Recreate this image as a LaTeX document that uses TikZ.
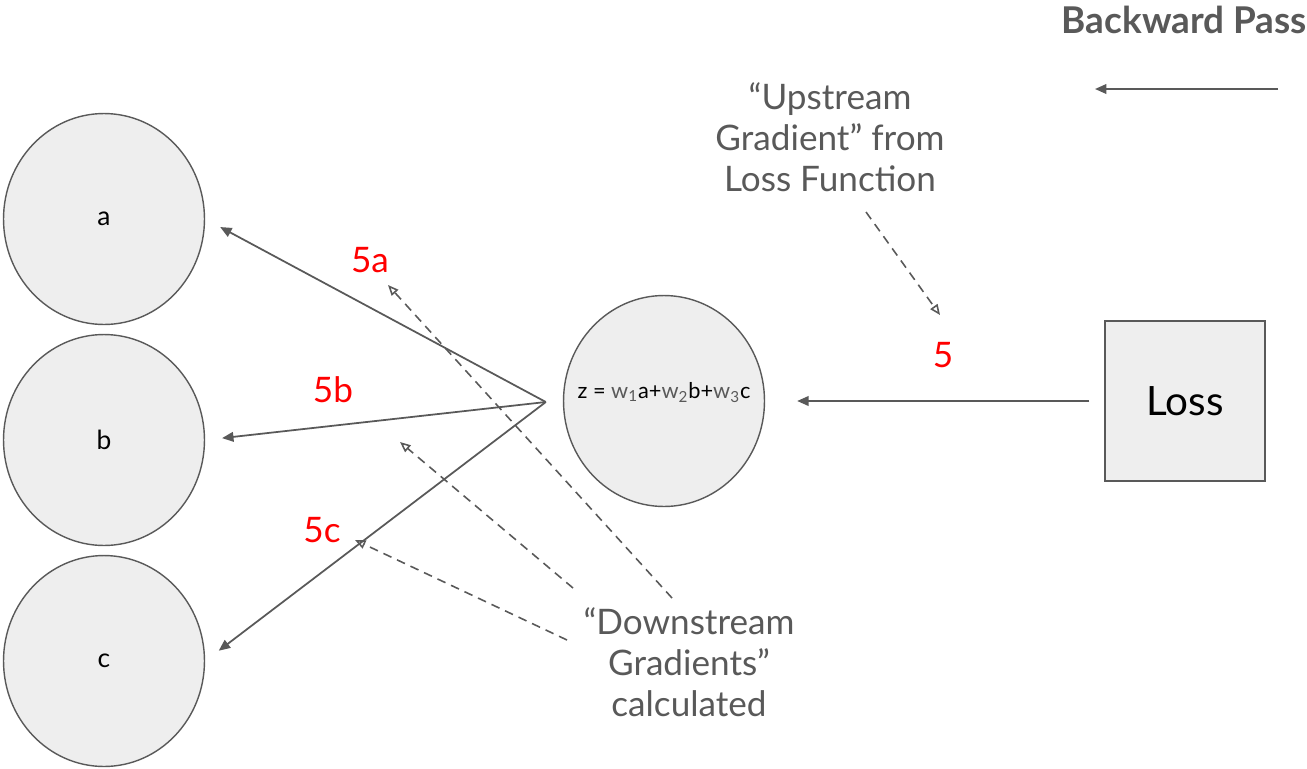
\documentclass[tikz,border=0pt]{standalone}
\usepackage{fontspec}
\setmainfont{Lato}
\usetikzlibrary{arrows.meta,positioning,calc,shapes.geometric}
\definecolor{lineGrey}{HTML}{595959}
\definecolor{fillGrey}{HTML}{EEEEEE}
\definecolor{gradRed}{HTML}{FF0000}
\newcommand{\wgt}[1]{\textcolor{lineGrey}{w\textsubscript{#1}}}

\begin{document}
\begin{tikzpicture}[x=0.02cm, y=-0.02cm,
    neuron/.style={ellipse, draw=lineGrey, fill=fillGrey, line width=0.8pt,
      minimum width=4.02cm, minimum height=4.22cm, inner sep=0pt,
      font=\fontsize{15}{17}\selectfont, text depth=0pt},
    flow/.style={-{Triangle[length=6.5pt,width=5.5pt]}, lineGrey, line width=1pt},
    hint/.style={-{Triangle[open,length=6pt,width=5pt]}, lineGrey, line width=0.9pt,
      dash pattern=on 5pt off 3.5pt},
    note/.style={lineGrey, align=center, font=\fontsize{20}{23.5}\selectfont},
    grad/.style={gradRed, font=\fontsize{20}{22}\selectfont}]
  \useasboundingbox (0,0) rectangle (1307,768);
  % input neurons
  \node[neuron] (a) at (104,219) {a};
  \node[neuron] (b) at (104,440) {b};
  \node[neuron] (c) at (104,661) {c};
  % weighted sum neuron
  \node[neuron, label={[font=\fontsize{12.4}{14}\selectfont, yshift=5pt]center:z = \wgt{1}a+\wgt{2}b+\wgt{3}c}]
    (z) at (664,401) {};
  % loss box
  \node[draw=lineGrey, fill=fillGrey, line width=0.8pt, minimum size=3.2cm,
    font=\fontsize{23}{26}\selectfont] (loss) at (1185,401) {Loss};
  % direction of the pass
  \node[lineGrey, anchor=east, inner sep=0pt, font=\bfseries\fontsize{21}{24}\selectfont] (pass) at (1307,20) {Backward Pass};
  \coordinate (passR) at (1278,89);
  \coordinate (passL) at (1095,89);
  \draw[flow] (passR) -- (passL);
  % upstream gradient
  \node[grad] (five) at (943,355) {5};
  \draw[flow, shorten <=0.3cm, shorten >=0.64cm] (loss.west) -- (z.east);
  \node[note] (up) at (830,137) {“Upstream\\Gradient” from\\Loss Function};
  \coordinate (upTail) at (866,212);
  \coordinate (upTip) at (940,315);
  \draw[hint] (upTail) -- (upTip);
  % downstream gradients
  \coordinate (fan) at ($(z.west)+(-17,1)$);
  \draw[flow, shorten >=0.34cm] (fan) -- (a.east);
  \draw[flow, shorten >=0.34cm] (fan) -- (b.east);
  \draw[flow, shorten >=0.34cm] (fan) -- (c.east);
  \node[grad] (gA) at (370,260) {5a};
  \node[grad] (gB) at (333,390) {5b};
  \node[grad] (gC) at (322,530) {5c};
  \node[note] (down) at (689,662) {“Downstream\\Gradients”\\calculated};
  \coordinate (tailA) at (672,598);
  \coordinate (tipA) at (388,285);
  \coordinate (tailB) at (573,588);
  \coordinate (tipB) at (400,442);
  \coordinate (tailC) at (567,640);
  \coordinate (tipC) at (355,540);
  \draw[hint] (tailA) -- (tipA);
  \draw[hint] (tailB) -- (tipB);
  \draw[hint] (tailC) -- (tipC);
\end{tikzpicture}
\end{document}
